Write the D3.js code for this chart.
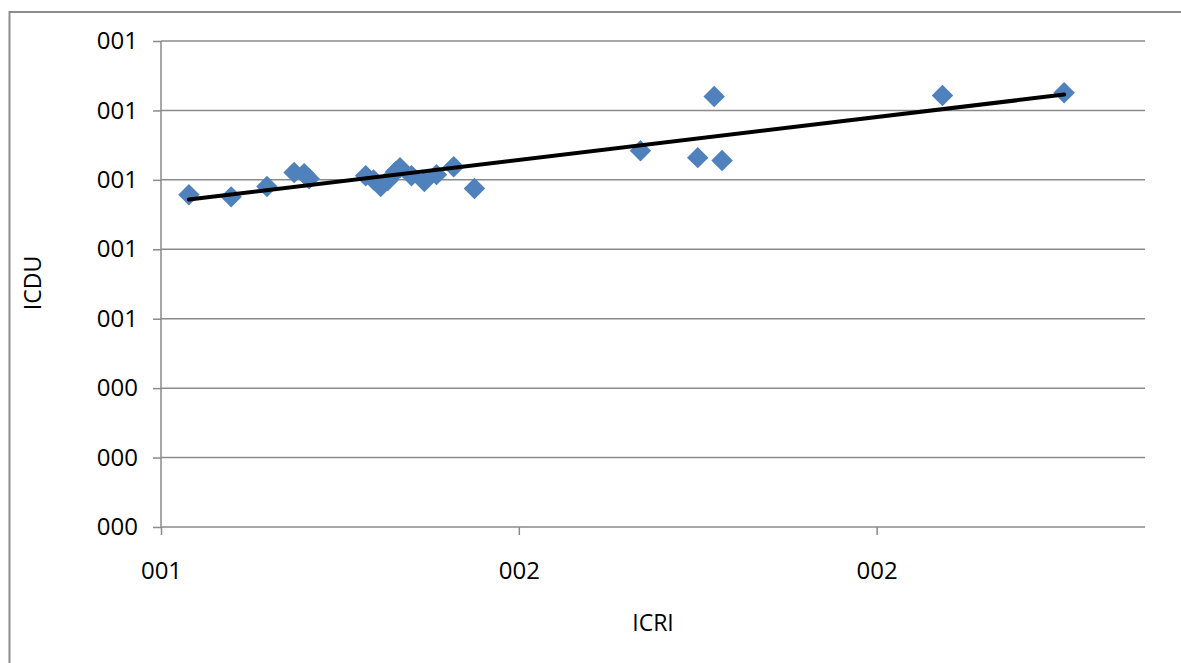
<!DOCTYPE html>
<html>
<head>
<meta charset="utf-8">
<script src="https://cdn.jsdelivr.net/npm/d3@7"></script>
<style>
  html, body { margin: 0; padding: 0; background: #fff; }
  svg { display: block; }
</style>
</head>
<body>
<svg id="chart" width="1181" height="663"></svg>
<script>
// ---- data ----
const icri = [1.039, 1.098, 1.148, 1.186, 1.200, 1.207, 1.286, 1.297, 1.307, 1.317, 1.328, 1.334,
              1.350, 1.368, 1.385, 1.409, 1.438, 1.670, 1.750, 1.773, 1.784, 2.092, 2.262];
const icdu = [0.957, 0.951, 0.981, 1.021, 1.018, 1.003, 1.012, 1.000, 0.981, 0.998, 1.024, 1.035,
              1.012, 0.995, 1.015, 1.038, 0.975, 1.084, 1.064, 1.240, 1.056, 1.243, 1.251];
const xTickValues = [1.0, 1.5, 2.0];
const xTickLabels = ["001", "002", "002"];
const yTickValues = [0, 0.2, 0.4, 0.6, 0.8, 1.0, 1.2, 1.4];
const yTickLabels = ["000", "000", "000", "001", "001", "001", "001", "001"];
const xTitle = "ICRI";
const yTitle = "ICDU";

// ---- layout ----
const FONT = "'Open Sans', 'Liberation Sans', Arial, sans-serif";
const svg = d3.select("#chart");
const plot = { left: 161, right: 1145, top: 41, bottom: 527 };
const x = d3.scaleLinear().domain([1.0, 2.375]).range([plot.left, plot.right]);
const y = d3.scaleLinear().domain([0, 1.4]).range([plot.bottom, plot.top]);

// outer chart border (only top and left visible in window)
svg.append("rect").attr("x", 9.5).attr("y", 12).attr("width", 1300).attr("height", 800)
  .attr("fill", "none").attr("stroke", "#8c8c8c").attr("stroke-width", 2);

// horizontal gridlines
svg.append("g").selectAll("line").data(yTickValues.slice(1)).join("line")
  .attr("x1", plot.left).attr("x2", plot.right)
  .attr("y1", d => y(d)).attr("y2", d => y(d))
  .attr("stroke", "#8a8a8a").attr("stroke-width", 1.5);

// y axis
const yAxis = d3.axisLeft(y).tickValues(yTickValues).tickSize(8)
  .tickFormat((d, i) => yTickLabels[i]).tickPadding(15);
const gy = svg.append("g").attr("transform", `translate(${plot.left},0)`).call(yAxis);
gy.attr("font-size", null).attr("font-family", null);
gy.select(".domain").attr("stroke", "#8a8a8a").attr("stroke-width", 1.5).attr("d", `M0,${plot.top}V${plot.bottom}`);
gy.selectAll(".tick line").attr("stroke", "#8a8a8a").attr("stroke-width", 1.5);
gy.selectAll(".tick text").attr("font-size", 24).attr("font-family", FONT).attr("fill", "#000");

// x axis
const xAxis = d3.axisBottom(x).tickValues(xTickValues).tickSize(8)
  .tickFormat((d, i) => xTickLabels[i]).tickPadding(27);
const gx = svg.append("g").attr("transform", `translate(0,${plot.bottom})`).call(xAxis);
gx.attr("font-size", null).attr("font-family", null);
gx.select(".domain").attr("stroke", "#8a8a8a").attr("stroke-width", 1.5).attr("d", `M${plot.left},0H${plot.right}`);
gx.selectAll(".tick line").attr("stroke", "#8a8a8a").attr("stroke-width", 1.5);
gx.selectAll(".tick text").attr("font-size", 24).attr("font-family", FONT).attr("fill", "#000");

// axis titles
svg.append("text").attr("x", 653).attr("y", 631).attr("text-anchor", "middle")
  .attr("font-family", FONT).attr("font-size", 23).attr("fill", "#000").text(xTitle);
svg.append("text").attr("transform", `translate(41,283) rotate(-90)`).attr("text-anchor", "middle")
  .attr("font-family", FONT).attr("font-size", 23).attr("fill", "#000").text(yTitle);

// points
const pts = icri.map((v, i) => ({ x: v, y: icdu[i] }));
const diamond = d3.symbol().type(d3.symbolSquare).size(230);
svg.append("g").selectAll("path").data(pts).join("path")
  .attr("d", diamond)
  .attr("transform", d => `translate(${x(d.x)},${y(d.y)}) rotate(45)`)
  .attr("fill", "#4f81bd");

// linear trend line (least squares)
const mx = d3.mean(icri), my = d3.mean(icdu);
const slope = d3.sum(icri, (v, i) => (v - mx) * (icdu[i] - my)) / d3.sum(icri, v => (v - mx) * (v - mx));
const intercept = my - slope * mx;
const [xmin, xmax] = d3.extent(icri);
svg.append("line")
  .attr("x1", x(xmin)).attr("y1", y(intercept + slope * xmin))
  .attr("x2", x(xmax)).attr("y2", y(intercept + slope * xmax))
  .attr("stroke", "#000").attr("stroke-width", 4).attr("stroke-linecap", "round");
</script>
</body>
</html>
